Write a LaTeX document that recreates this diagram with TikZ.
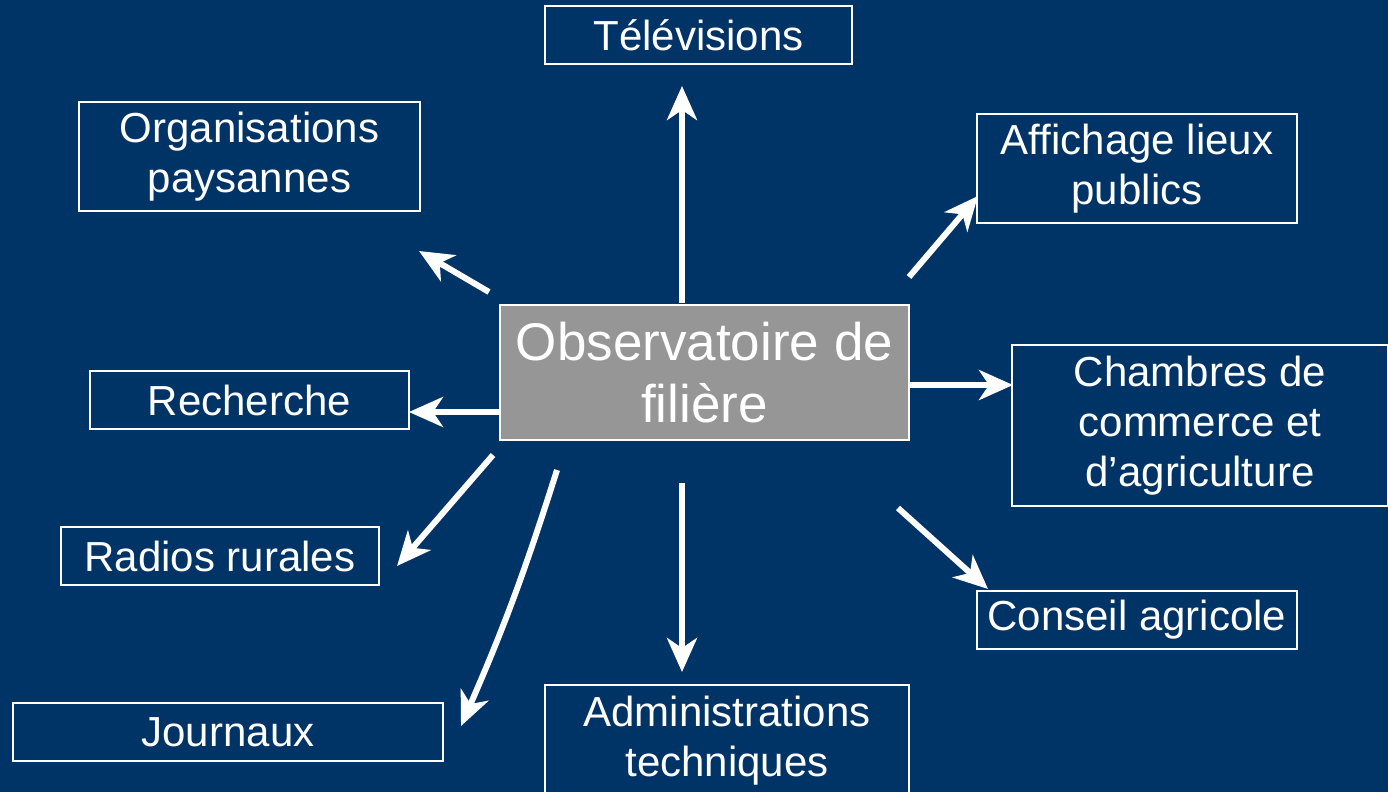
\documentclass[tikz,border=0pt]{standalone}
\usepackage{fontspec}
\setmainfont{Liberation Sans}
\usetikzlibrary{arrows.meta}
\definecolor{bgnavy}{RGB}{0,51,102}
\definecolor{boxgray}{RGB}{150,150,150}
\begin{document}
\begin{tikzpicture}[x=1pt,y=-1pt,
  lbl/.style={draw=white,line width=1.6pt,text=white,align=center,inner sep=0pt,
    font=\fontsize{42}{50}\selectfont},
  arr/.style={white,line width=6pt,-{Stealth[length=34pt,width=30pt,inset=10pt]}}]
\useasboundingbox (0,0) rectangle (1388,792);
\clip (0,0) rectangle (1388,792);
\fill[bgnavy] (0,0) rectangle (1388,792);
\node[lbl,minimum width=307pt,minimum height=58pt] (tv) at (698.5,35) {Télévisions};
\node[lbl,minimum width=341pt,minimum height=109pt] (org) at (249.5,156.5) {Organisations\\paysannes};
\node[lbl,minimum width=320pt,minimum height=109pt] (aff) at (1137,168.5) {Affichage lieux\\publics};
\node[lbl,fill=boxgray,minimum width=409pt,minimum height=135pt,
  font=\fontsize{53}{62}\selectfont] (obs) at (704.5,372.5) {Observatoire de\\filière};
\node[lbl,minimum width=376pt,minimum height=161pt] (cham) at (1200,425.5) {Chambres de\\commerce et\\d’agriculture};
\node[lbl,minimum width=319pt,minimum height=58pt] (rech) at (249.5,400) {Recherche};
\node[lbl,minimum width=318pt,minimum height=58pt] (radio) at (220,556) {Radios rurales};
\node[lbl,minimum width=320pt,minimum height=58pt] (cons) at (1137,620) {Conseil agricole};
\node[lbl,minimum width=430pt,minimum height=58pt] (jour) at (228,732) {Journaux};
\node[lbl,minimum width=364pt,minimum height=112pt] (adm) at (727,741) {Administrations\\techniques};
% arrow end points
\coordinate (s1) at (682,303); \coordinate (e1) at (682,86);
\coordinate (s2) at (489,292); \coordinate (e2) at (419,251);
\coordinate (s3) at (909,277); \coordinate (e3) at (978,196);
\coordinate (s4) at (909,385); \coordinate (e4) at (1013,385);
\coordinate (s5) at (500,412); \coordinate (e5) at (409,412);
\coordinate (s6) at (493,455); \coordinate (e6) at (397,566);
\coordinate (s7) at (557,470); \coordinate (e7) at (461,726);
\coordinate (s8) at (682,483); \coordinate (e8) at (682,672);
\coordinate (s9) at (898,508); \coordinate (e9) at (988,589);
\draw[arr] (s1) -- (e1);
\draw[arr] (s2) -- (e2);
\draw[arr] (s3) -- (e3);
\draw[arr] (s4) -- (e4);
\draw[arr] (s5) -- (e5);
\draw[arr] (s6) -- (e6);
\draw[arr] (s7) to[bend left=3] (e7);
\draw[arr] (s8) -- (e8);
\draw[arr] (s9) -- (e9);
\end{tikzpicture}
\end{document}
